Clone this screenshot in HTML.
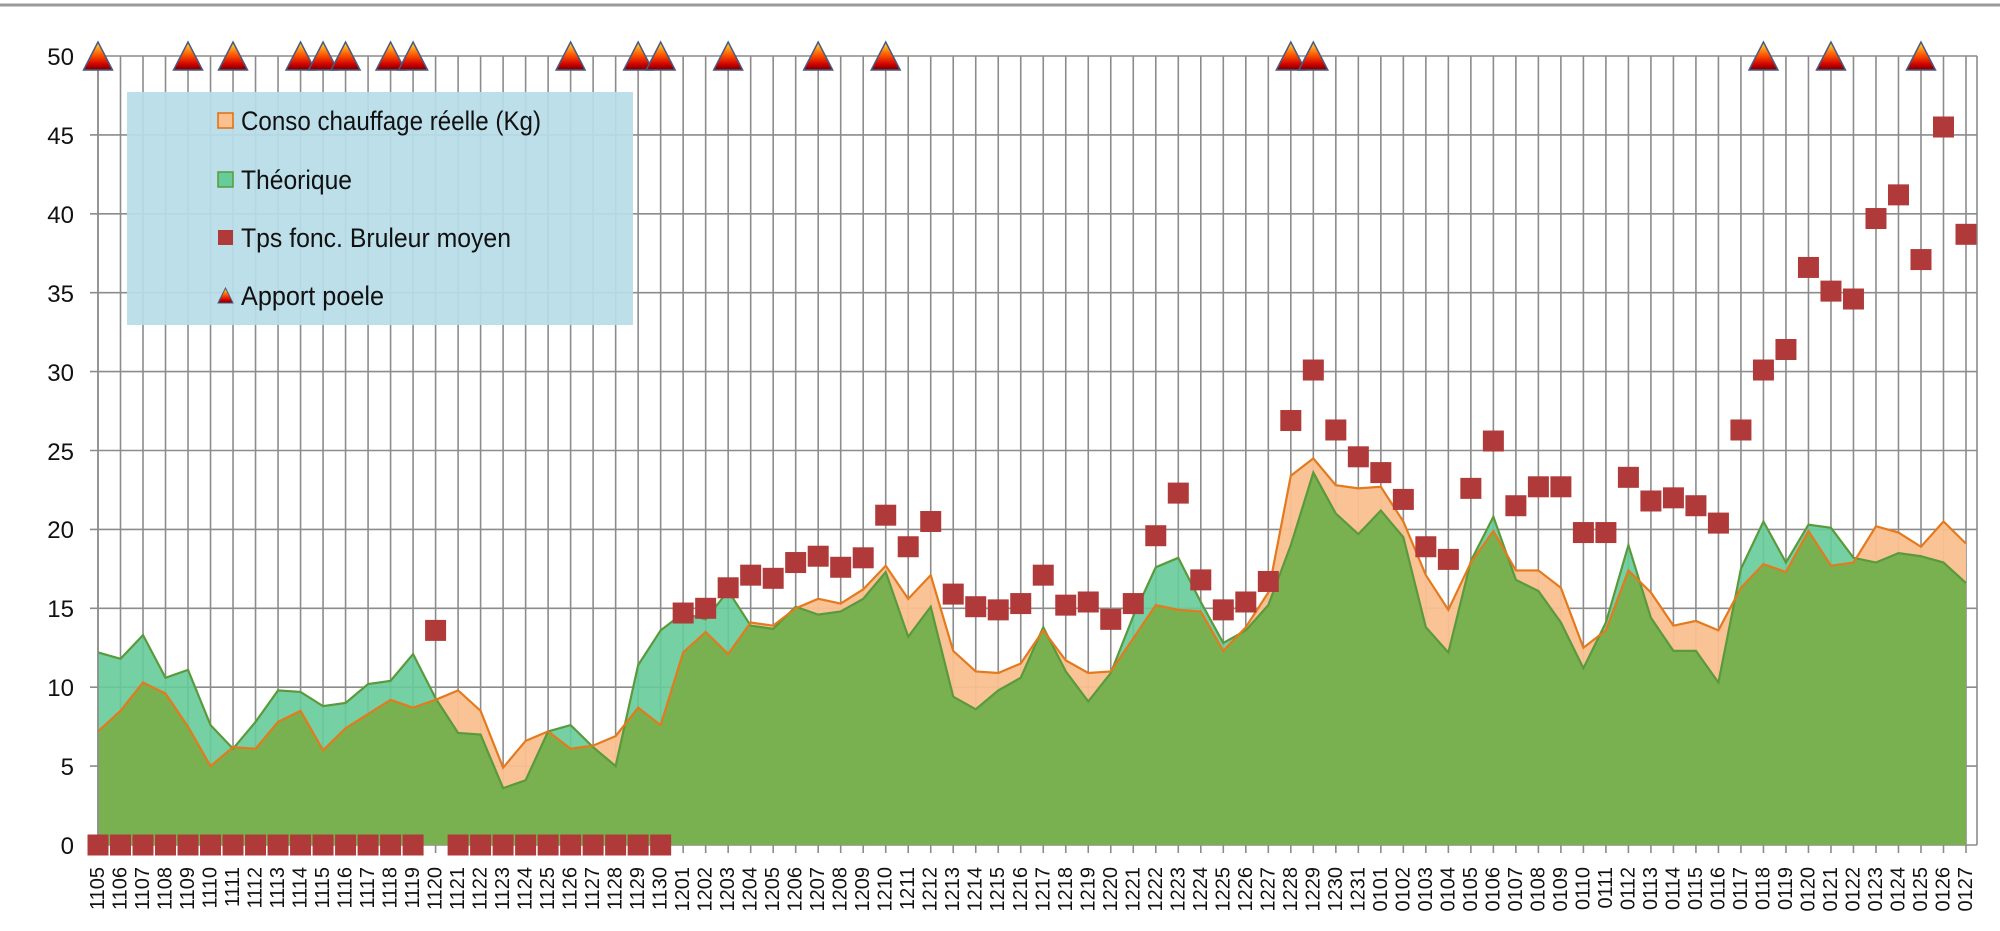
<!DOCTYPE html>
<html><head><meta charset="utf-8"><style>
html,body{margin:0;padding:0;background:#fff;}
svg{display:block;font-family:"Liberation Sans",sans-serif;}
</style></head><body>
<svg id="c" width="2000" height="931" viewBox="0 0 2000 931" xmlns="http://www.w3.org/2000/svg">
<defs>
<linearGradient id="tg" x1="0" y1="0" x2="0" y2="1">
<stop offset="0" stop-color="#ffe040"/><stop offset="0.45" stop-color="#ff5a00"/><stop offset="0.8" stop-color="#d00000"/><stop offset="1" stop-color="#700000"/>
</linearGradient>
</defs>
<line x1="0" y1="5" x2="2000" y2="5" stroke="#9a9a9a" stroke-width="3"/>
<g id="grid"></g>
<g id="areas"></g>
<g id="marks"></g>
<g font-size="24" fill="#111" text-anchor="end">
<text x="74" y="65">50</text><text x="74" y="144">45</text><text x="74" y="223">40</text><text x="74" y="302">35</text><text x="74" y="381">30</text><text x="74" y="460">25</text><text x="74" y="538">20</text><text x="74" y="617">15</text><text x="74" y="696">10</text><text x="74" y="775">5</text><text x="74" y="854">0</text>
</g>
<rect x="127" y="92" width="506" height="233" fill="#b7dde8" fill-opacity="0.93"/>
<rect x="218" y="113" width="15" height="15" fill="#fac090" stroke="#e46c0a" stroke-width="1.5"/>
<rect x="218" y="172" width="15" height="15" fill="#66cc99" stroke="#5a9a3c" stroke-width="1.5"/>
<rect x="218" y="230" width="15" height="15" fill="#b03a3a"/>
<polygon points="225.5,288 218,303 233,303" fill="url(#tg)" stroke="#4a5a80" stroke-width="1"/>
<g font-size="27" fill="#111">
<text x="241" y="130" textLength="300" lengthAdjust="spacingAndGlyphs">Conso chauffage réelle (Kg)</text>
<text x="241" y="189" textLength="111" lengthAdjust="spacingAndGlyphs">Théorique</text>
<text x="241" y="247" textLength="270" lengthAdjust="spacingAndGlyphs">Tps fonc. Bruleur moyen</text>
<text x="241" y="305" textLength="143" lengthAdjust="spacingAndGlyphs">Apport poele</text>
</g>
<g font-size="20" fill="#111" text-anchor="end" dominant-baseline="central">
<text transform="translate(98,867) rotate(-90)">1105</text>
<text transform="translate(120.5,867) rotate(-90)">1106</text>
<text transform="translate(143,867) rotate(-90)">1107</text>
<text transform="translate(165.5,867) rotate(-90)">1108</text>
<text transform="translate(188,867) rotate(-90)">1109</text>
<text transform="translate(210.5,867) rotate(-90)">1110</text>
<text transform="translate(233,867) rotate(-90)">1111</text>
<text transform="translate(255.5,867) rotate(-90)">1112</text>
<text transform="translate(278,867) rotate(-90)">1113</text>
<text transform="translate(300.6,867) rotate(-90)">1114</text>
<text transform="translate(323.1,867) rotate(-90)">1115</text>
<text transform="translate(345.6,867) rotate(-90)">1116</text>
<text transform="translate(368.1,867) rotate(-90)">1117</text>
<text transform="translate(390.6,867) rotate(-90)">1118</text>
<text transform="translate(413.1,867) rotate(-90)">1119</text>
<text transform="translate(435.6,867) rotate(-90)">1120</text>
<text transform="translate(458.1,867) rotate(-90)">1121</text>
<text transform="translate(480.6,867) rotate(-90)">1122</text>
<text transform="translate(503.1,867) rotate(-90)">1123</text>
<text transform="translate(525.6,867) rotate(-90)">1124</text>
<text transform="translate(548.1,867) rotate(-90)">1125</text>
<text transform="translate(570.6,867) rotate(-90)">1126</text>
<text transform="translate(593.1,867) rotate(-90)">1127</text>
<text transform="translate(615.6,867) rotate(-90)">1128</text>
<text transform="translate(638.2,867) rotate(-90)">1129</text>
<text transform="translate(660.7,867) rotate(-90)">1130</text>
<text transform="translate(683.2,867) rotate(-90)">1201</text>
<text transform="translate(705.7,867) rotate(-90)">1202</text>
<text transform="translate(728.2,867) rotate(-90)">1203</text>
<text transform="translate(750.7,867) rotate(-90)">1204</text>
<text transform="translate(773.2,867) rotate(-90)">1205</text>
<text transform="translate(795.7,867) rotate(-90)">1206</text>
<text transform="translate(818.2,867) rotate(-90)">1207</text>
<text transform="translate(840.7,867) rotate(-90)">1208</text>
<text transform="translate(863.2,867) rotate(-90)">1209</text>
<text transform="translate(885.7,867) rotate(-90)">1210</text>
<text transform="translate(908.2,867) rotate(-90)">1211</text>
<text transform="translate(930.7,867) rotate(-90)">1212</text>
<text transform="translate(953.2,867) rotate(-90)">1213</text>
<text transform="translate(975.7,867) rotate(-90)">1214</text>
<text transform="translate(998.2,867) rotate(-90)">1215</text>
<text transform="translate(1020.8,867) rotate(-90)">1216</text>
<text transform="translate(1043.3,867) rotate(-90)">1217</text>
<text transform="translate(1065.8,867) rotate(-90)">1218</text>
<text transform="translate(1088.3,867) rotate(-90)">1219</text>
<text transform="translate(1110.8,867) rotate(-90)">1220</text>
<text transform="translate(1133.3,867) rotate(-90)">1221</text>
<text transform="translate(1155.8,867) rotate(-90)">1222</text>
<text transform="translate(1178.3,867) rotate(-90)">1223</text>
<text transform="translate(1200.8,867) rotate(-90)">1224</text>
<text transform="translate(1223.3,867) rotate(-90)">1225</text>
<text transform="translate(1245.8,867) rotate(-90)">1226</text>
<text transform="translate(1268.3,867) rotate(-90)">1227</text>
<text transform="translate(1290.8,867) rotate(-90)">1228</text>
<text transform="translate(1313.3,867) rotate(-90)">1229</text>
<text transform="translate(1335.8,867) rotate(-90)">1230</text>
<text transform="translate(1358.3,867) rotate(-90)">1231</text>
<text transform="translate(1380.8,867) rotate(-90)">0101</text>
<text transform="translate(1403.4,867) rotate(-90)">0102</text>
<text transform="translate(1425.9,867) rotate(-90)">0103</text>
<text transform="translate(1448.4,867) rotate(-90)">0104</text>
<text transform="translate(1470.9,867) rotate(-90)">0105</text>
<text transform="translate(1493.4,867) rotate(-90)">0106</text>
<text transform="translate(1515.9,867) rotate(-90)">0107</text>
<text transform="translate(1538.4,867) rotate(-90)">0108</text>
<text transform="translate(1560.9,867) rotate(-90)">0109</text>
<text transform="translate(1583.4,867) rotate(-90)">0110</text>
<text transform="translate(1605.9,867) rotate(-90)">0111</text>
<text transform="translate(1628.4,867) rotate(-90)">0112</text>
<text transform="translate(1650.9,867) rotate(-90)">0113</text>
<text transform="translate(1673.4,867) rotate(-90)">0114</text>
<text transform="translate(1695.9,867) rotate(-90)">0115</text>
<text transform="translate(1718.4,867) rotate(-90)">0116</text>
<text transform="translate(1741,867) rotate(-90)">0117</text>
<text transform="translate(1763.5,867) rotate(-90)">0118</text>
<text transform="translate(1786,867) rotate(-90)">0119</text>
<text transform="translate(1808.5,867) rotate(-90)">0120</text>
<text transform="translate(1831,867) rotate(-90)">0121</text>
<text transform="translate(1853.5,867) rotate(-90)">0122</text>
<text transform="translate(1876,867) rotate(-90)">0123</text>
<text transform="translate(1898.5,867) rotate(-90)">0124</text>
<text transform="translate(1921,867) rotate(-90)">0125</text>
<text transform="translate(1943.5,867) rotate(-90)">0126</text>
<text transform="translate(1966,867) rotate(-90)">0127</text>
</g>
</svg>
<script>
(function(){
var NS="http://www.w3.org/2000/svg";
var X=function(i){return 98+i*22.506;},Y=function(v){return 845-v*15.78;};
var theo=[12.2,11.8,13.3,10.6,11.1,7.6,6.1,7.8,9.8,9.7,8.8,9.0,10.2,10.4,12.1,9.3,7.1,7.0,3.6,4.1,7.2,7.6,6.2,5.0,11.4,13.6,14.7,14.3,16.1,13.9,13.7,15.1,14.6,14.8,15.6,17.3,13.2,15.1,9.4,8.6,9.8,10.6,13.8,11.0,9.1,10.9,14.5,17.6,18.2,15.4,12.8,13.6,15.2,19.0,23.6,21.0,19.7,21.2,19.5,13.8,12.2,18.0,20.8,16.8,16.1,14.1,11.2,14.1,19.0,14.4,12.3,12.3,10.3,17.5,20.5,17.9,20.3,20.1,18.2,17.9,18.5,18.3,17.9,16.6];
var conso=[7.2,8.5,10.3,9.6,7.5,5.0,6.2,6.1,7.8,8.5,6.0,7.4,8.3,9.2,8.7,9.2,9.8,8.5,4.9,6.6,7.2,6.1,6.3,6.9,8.7,7.6,12.2,13.5,12.1,14.1,13.9,15.0,15.6,15.3,16.2,17.7,15.6,17.1,12.3,11.0,10.9,11.5,13.6,11.7,10.9,11.0,13.1,15.2,14.9,14.8,12.3,13.8,16.0,23.4,24.5,22.8,22.6,22.7,20.5,17.1,14.9,17.9,19.9,17.4,17.4,16.3,12.5,13.6,17.4,16.0,13.9,14.2,13.6,16.3,17.8,17.3,19.9,17.7,17.9,20.2,19.8,18.9,20.5,19.1];
var sq=[];for(var i=0;i<26;i++)sq.push(0);sq[15]=13.6;
sq=sq.concat([14.7,15.0,16.3,17.1,16.9,17.9,18.3,17.6,18.2,20.9,18.9,20.5,15.9,15.1,14.9,15.3,17.1,15.2,15.4,14.3,15.3,19.6,22.3,16.8,14.9,15.4,16.7,26.9,30.1,26.3,24.6,23.6,21.9,18.9,18.1,22.6,25.6,21.5,22.7,22.7,19.8,19.8,23.3,21.8,22.0,21.5,20.4,26.3,30.1,31.4,36.6,35.1,34.6,39.7,41.2,37.1,45.5,38.7]);
var tri=[0,4,6,9,10,11,13,14,21,24,25,28,32,35,53,54,74,77,81];
function el(t,a,p){var e=document.createElementNS(NS,t);for(var k in a)e.setAttribute(k,a[k]);p.appendChild(e);return e;}
var g=document.getElementById("grid");
for(var v=0;v<=50;v+=5)el("line",{x1:90,x2:1977,y1:Y(v),y2:Y(v),stroke:"#8c8c8c","stroke-width":1.6},g);
for(i=0;i<84;i++)el("line",{x1:X(i),x2:X(i),y1:56,y2:853,stroke:"#8c8c8c","stroke-width":1.6},g);
el("line",{x1:1977,x2:1977,y1:56,y2:845,stroke:"#8c8c8c","stroke-width":1.6},g);
var a=document.getElementById("areas");
function poly(arr){var s=X(0)+","+Y(0);for(var i=0;i<arr.length;i++)s+=" "+X(i)+","+Y(arr[i]);s+=" "+X(arr.length-1)+","+Y(0);return s;}
el("polygon",{points:poly(theo),fill:"#66cc99","fill-opacity":0.9},a);
el("polygon",{points:poly(conso),fill:"#fac090","fill-opacity":0.95},a);
var pts=[[X(0),Y(0)]];
for(i=0;i<84;i++){
 pts.push([X(i),Y(Math.min(theo[i],conso[i]))]);
 if(i<83){var d0=theo[i]-conso[i],d1=theo[i+1]-conso[i+1];
  if(d0*d1<0){var t=d0/(d0-d1);pts.push([X(i+t),Y(theo[i]+t*(theo[i+1]-theo[i]))]);}}
}
pts.push([X(83),Y(0)]);
el("polygon",{points:pts.map(function(p){return p.join(",");}).join(" "),fill:"#72b04e","fill-opacity":0.95},a);
function line(arr){var s="";for(var i=0;i<arr.length;i++)s+=(i?" ":"")+X(i)+","+Y(arr[i]);return s;}
el("polyline",{points:line(theo),fill:"none",stroke:"#5a9a3c","stroke-width":2.2},a);
el("polyline",{points:line(conso),fill:"none",stroke:"#e47a1e","stroke-width":2.2},a);
el("line",{x1:98,x2:98,y1:56,y2:845,stroke:"#8c8c8c","stroke-width":1.6},a);
var m=document.getElementById("marks");
for(i=0;i<84;i++){el("rect",{x:X(i)-10.5,y:Y(sq[i])-10.5,width:21,height:21,fill:"#b03a3a"},m);}
for(var j=0;j<tri.length;j++){var cx=X(tri[j]);el("polygon",{points:cx+",42 "+(cx-14.5)+",70 "+(cx+14.5)+",70",fill:"url(#tg)",stroke:"#4a5a80","stroke-width":1.5},m);}
})();
</script>
</body></html>
